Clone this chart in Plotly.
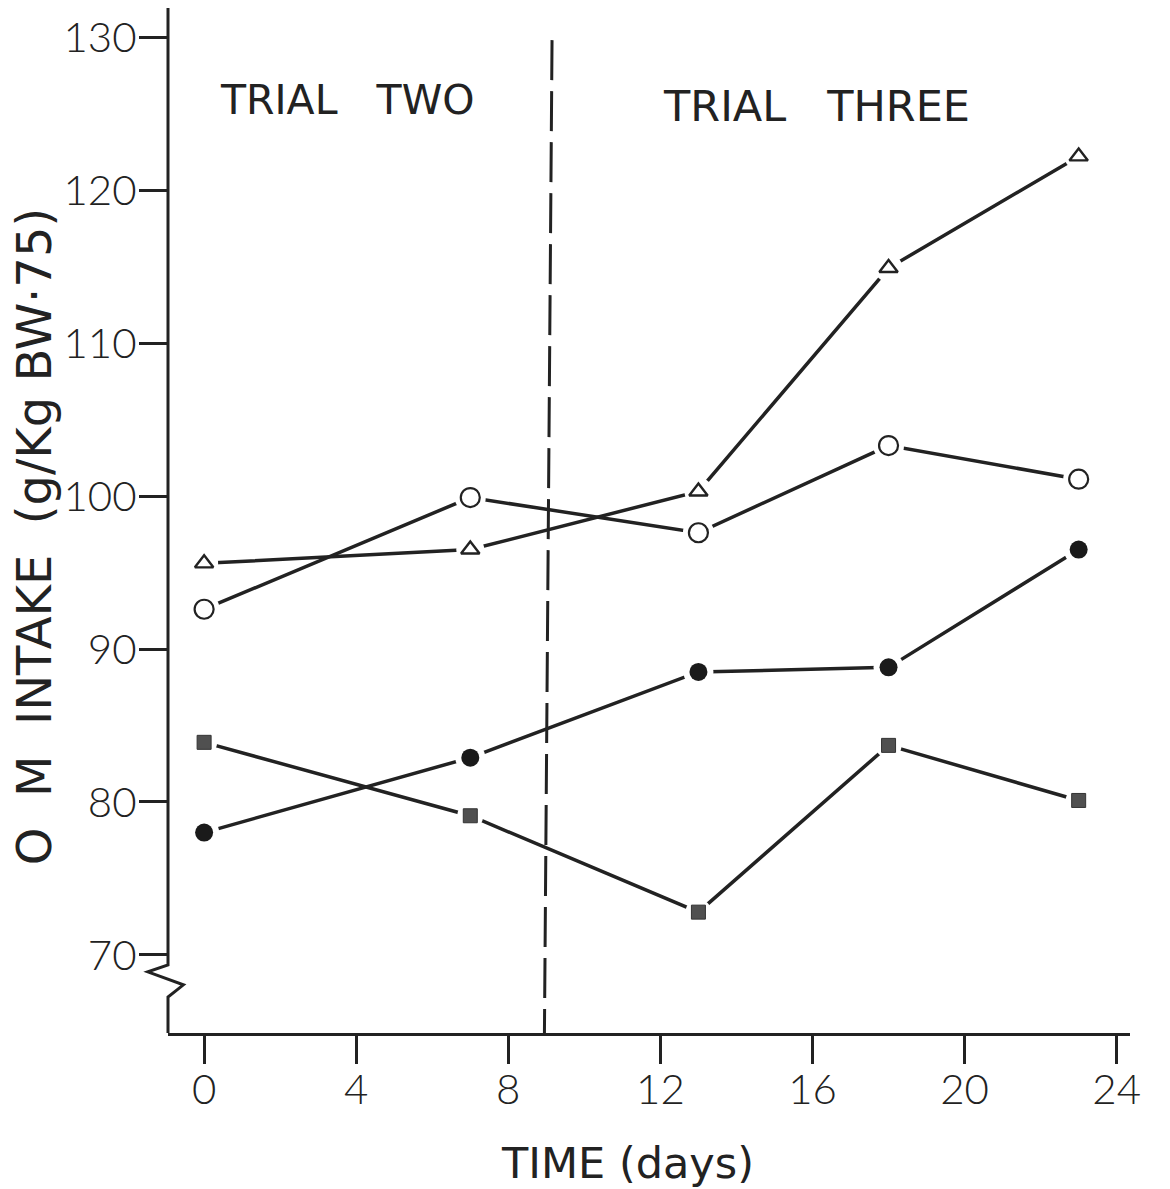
import plotly.graph_objects as go

# Sampling days and organic-matter intake (g/Kg BW·75) per treatment group
days = [0, 7, 13, 18, 23]
open_triangle = [95.6, 96.5, 100.3, 114.9, 122.2]
open_circle = [92.6, 99.9, 97.6, 103.3, 101.1]
filled_circle = [78.0, 82.9, 88.5, 88.8, 96.5]
filled_square = [83.9, 79.1, 72.8, 83.7, 80.1]

y_ticks = [70, 80, 90, 100, 110, 120, 130]
x_ticks = [0, 4, 8, 12, 16, 20, 24]

INK = "#222222"
FONT = "DejaVu Sans"
TICK_FONT = dict(family="Lato, Liberation Sans", size=42, color=INK, weight=300)
X_RANGE = [-0.95, 24.35]
Y_RANGE = [64.9, 131.9]
TRIAL_SPLIT = 9.0

series = [
    (open_triangle, dict(symbol="triangle-up-open", size=16, color=INK, line=dict(width=2.4, color=INK))),
    (open_circle, dict(symbol="circle-open", size=19, color=INK, line=dict(width=2.2, color=INK))),
    (filled_circle, dict(symbol="circle", size=18, color="#1a1a1a", line=dict(width=0))),
    (filled_square, dict(symbol="square", size=14, color="#505050", line=dict(width=1, color="#333333"))),
]

fig = go.Figure()

# connecting lines
for values, _ in series:
    fig.add_trace(go.Scatter(x=days, y=values, mode="lines",
                             line=dict(color=INK, width=3.5), hoverinfo="skip",
                             showlegend=False))

# white halos leave a small gap between each line and its markers
for values, style in series:
    fig.add_trace(go.Scatter(x=days, y=values, mode="markers",
                             marker=dict(symbol="circle", size=style["size"] + 12,
                                         color="white", line=dict(width=0)),
                             hoverinfo="skip", showlegend=False))

for values, style in series:
    fig.add_trace(go.Scatter(x=days, y=values, mode="markers", marker=style,
                             showlegend=False))

shapes = [
    # broken y axis with the zigzag below 70
    dict(type="path", xref="paper", yref="y",
         path=(f"M 0 {Y_RANGE[1]} L 0 69.35 L -0.021 68.9 L 0.016 68.05 "
               f"L 0 67.25 L 0 {Y_RANGE[0]}"),
         line=dict(color=INK, width=3)),
    # boundary between trial two and trial three
    dict(type="line", xref="x", yref="y",
         x0=TRIAL_SPLIT + 0.15, y0=129.8, x1=TRIAL_SPLIT - 0.05, y1=Y_RANGE[0],
         line=dict(color=INK, width=3, dash="40px,11px")),
]

annotations = [
    dict(text="TRIAL\u00a0\u00a0\u00a0TWO", x=3.75, y=125.9, xref="x", yref="y",
         showarrow=False, font=dict(family=FONT, size=41, color=INK)),
    dict(text="TRIAL\u00a0\u00a0\u00a0THREE", x=16.1, y=125.5, xref="x", yref="y",
         showarrow=False, font=dict(family=FONT, size=43, color=INK)),
    dict(text="TIME (days)", x=0.4775, y=-0.127, xref="paper", yref="paper",
         showarrow=False, xanchor="center", yanchor="middle",
         font=dict(family=FONT, size=43, color=INK)),
    dict(text="O\u00a0\u00a0M\u00a0\u00a0INTAKE\u00a0\u00a0(g/Kg\u00a0BW\u00b775)",
         x=-0.139, y=0.484, xref="paper", yref="paper", textangle=-90,
         showarrow=False, xanchor="center", yanchor="middle",
         font=dict(family=FONT, size=48, color=INK)),
]

fig.update_layout(
    width=1170, height=1189, autosize=False,
    margin=dict(l=168, r=40, t=8, b=156),
    paper_bgcolor="white", plot_bgcolor="white",
    shapes=shapes, annotations=annotations,
    showlegend=False,
)

fig.update_xaxes(range=X_RANGE, tickvals=x_ticks, ticktext=[str(v) for v in x_ticks],
                 showgrid=False, zeroline=False, showline=True, linecolor=INK, linewidth=3,
                 ticks="outside", ticklen=28, tickwidth=3, tickcolor=INK,
                 ticklabelstandoff=-10, tickfont=TICK_FONT)
fig.update_yaxes(range=Y_RANGE, tickvals=y_ticks, ticktext=[str(v) for v in y_ticks],
                 showgrid=False, zeroline=False, showline=False,
                 ticks="outside", ticklen=28, tickwidth=3, tickcolor=INK,
                 ticklabelstandoff=-6, tickfont=TICK_FONT)

fig.write_html("out.html")
